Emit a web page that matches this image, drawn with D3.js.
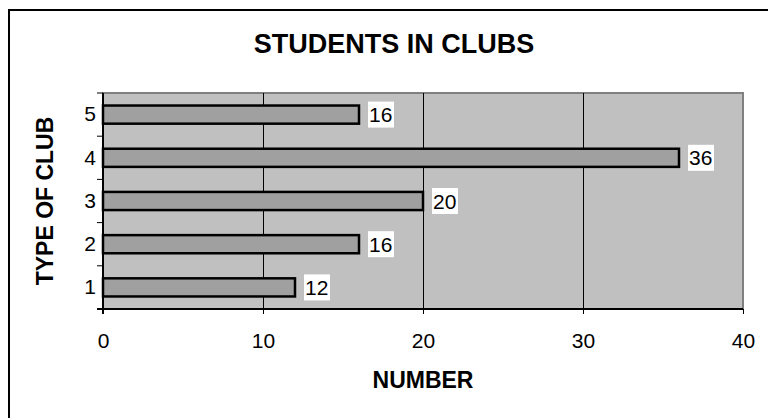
<!DOCTYPE html>
<html>
<head>
<meta charset="utf-8">
<script src="https://cdn.jsdelivr.net/npm/d3@7"></script>
<style>
  body{margin:0;background:#fff;}
  text{font-family:Arial,"Liberation Sans",sans-serif;fill:#000;}
</style>
</head>
<body>
<svg id="chart" width="768" height="418"></svg>
<script>
const clubs = ["1","2","3","4","5"];
const students = [12,16,20,36,16];
const xTicks = [0,10,20,30,40];

const svg = d3.select("#chart");

// outer frame (cut off at right and bottom)
svg.append("rect")
  .attr("x",9).attr("y",10).attr("width",800).attr("height",430)
  .attr("fill","#fff").attr("stroke","#000").attr("stroke-width",2);

const m = {left:103, right:743, top:93, bottom:309};

const x = d3.scaleLinear().domain([0,40]).range([m.left,m.right]);
const y = d3.scaleBand().domain(clubs.slice().reverse()).range([m.top,m.bottom])
  .paddingInner(0.58).paddingOuter(0.29);

// plot background
svg.append("rect")
  .attr("x",m.left).attr("y",m.top)
  .attr("width",m.right-m.left).attr("height",m.bottom-m.top)
  .attr("fill","#c0c0c0").attr("stroke","#808080").attr("stroke-width",2);

// grid
svg.append("g").selectAll("line").data(xTicks.slice(1,-1)).join("line")
  .attr("x1",d=>x(d)+0.5).attr("x2",d=>x(d)+0.5)
  .attr("y1",m.top).attr("y2",m.bottom)
  .attr("stroke","#000").attr("stroke-width",1);

// bars
svg.append("g").selectAll("rect").data(clubs).join("rect")
  .attr("x",x(0)).attr("y",d=>y(d))
  .attr("width",(d,i)=>x(students[i])-x(0))
  .attr("height",y.bandwidth())
  .attr("fill","#a0a0a0").attr("stroke","#000").attr("stroke-width",2.5);

// value labels
const lab = svg.append("g").selectAll("g").data(clubs).join("g")
  .attr("transform",(d,i)=>`translate(${x(students[i])+9},${y(d)+y.bandwidth()/2})`);
lab.append("rect")
  .attr("x",0).attr("y",-13).attr("width",(d,i)=>String(students[i]).length*12.5+1).attr("height",26)
  .attr("fill","#fff");
lab.append("text")
  .attr("x",1).attr("dy","0.36em")
  .style("font-size","21px")
  .text((d,i)=>students[i]);

// x axis
const xa = svg.append("g").attr("transform",`translate(0,${m.bottom})`)
  .call(d3.axisBottom(x).tickValues(xTicks).tickSize(5).tickPadding(19).tickFormat(d3.format("d")));
xa.select(".domain").attr("stroke","#000").attr("stroke-width",2).attr("d",`M${m.left-6},0H${m.right}`);
xa.selectAll(".tick line").attr("stroke","#000");
xa.selectAll(".tick text").style("font-size","21px");

// y axis
const ya = svg.append("g").attr("transform",`translate(${m.left},0)`)
  .call(d3.axisLeft(y).tickSize(0).tickPadding(7));
ya.select(".domain").attr("stroke","#000").attr("stroke-width",2).attr("d",`M0,${m.top}V${m.bottom+5}`);
ya.selectAll(".tick text").style("font-size","21px");
ya.append("g").selectAll("line").data(d3.range(6)).join("line")
  .attr("x1",-6).attr("x2",0)
  .attr("y1",d=>m.top+d*(m.bottom-m.top)/5).attr("y2",d=>m.top+d*(m.bottom-m.top)/5)
  .attr("stroke","#000");

// titles
svg.append("text").attr("x",394).attr("y",53).attr("text-anchor","middle")
  .style("font-size","27px").style("font-weight","bold").text("STUDENTS IN CLUBS");
svg.append("text").attr("x",(m.left+m.right)/2).attr("y",388).attr("text-anchor","middle")
  .style("font-size","23px").style("font-weight","bold").text("NUMBER");
svg.append("text").attr("transform",`translate(53,${(m.top+m.bottom)/2}) rotate(-90)`)
  .attr("text-anchor","middle")
  .style("font-size","23px").style("font-weight","bold").text("TYPE OF CLUB");
</script>
</body>
</html>
